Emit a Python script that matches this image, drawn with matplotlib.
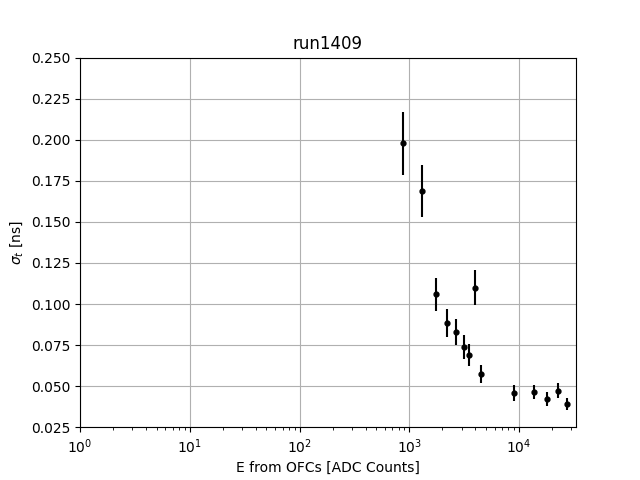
import matplotlib
matplotlib.use("Agg")
import matplotlib.pyplot as plt

energy = [875, 1308, 1758, 2218, 2682, 3128, 3528, 4008, 4455, 8935, 13640, 17950, 22790, 27210]
sigma = [0.1978, 0.1689, 0.1059, 0.0885, 0.0830, 0.0738, 0.0688, 0.1100, 0.0572, 0.0458, 0.0464, 0.0420, 0.0472, 0.0389]
sigma_err = [0.019, 0.016, 0.0102, 0.0084, 0.0078, 0.0072, 0.0066, 0.0105, 0.0055, 0.0046, 0.0042, 0.0043, 0.0045, 0.0037]

fig, ax = plt.subplots(figsize=(6.4, 4.8), dpi=100)
ax.errorbar(energy, sigma, yerr=sigma_err, fmt='o', color='black', markersize=3.5, elinewidth=1.5)
ax.set_xscale('log')
ax.set_xlim(1, 33000)
ax.set_ylim(0.025, 0.25)
ax.grid(True)
ax.set_title('run1409')
ax.set_xlabel('E from OFCs [ADC Counts]')
ax.set_ylabel(r'$\sigma_t$ [ns]')
fig.savefig('out.png')
